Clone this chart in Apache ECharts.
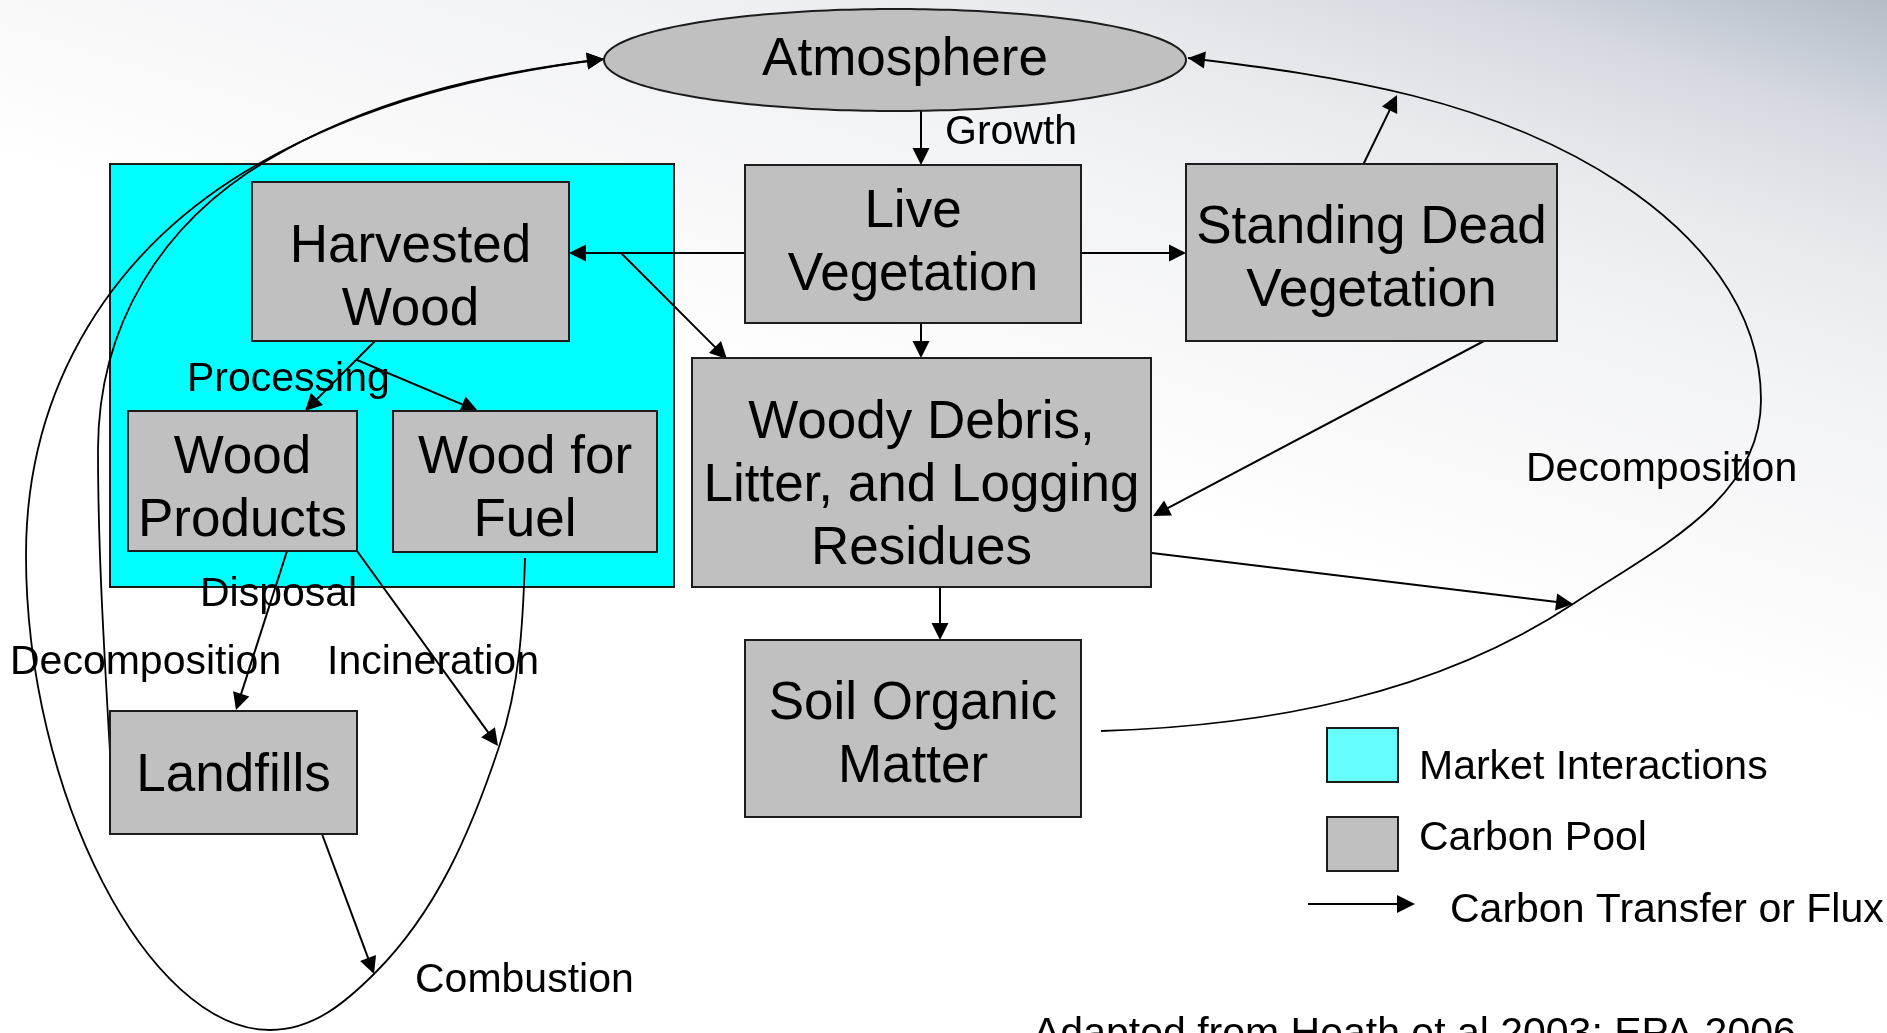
<!DOCTYPE html>
<html>
<head>
<meta charset="utf-8">
<script src="https://cdn.jsdelivr.net/npm/echarts@6/dist/echarts.min.js"></script>
<style>
html,body{margin:0;padding:0;background:#fff;overflow:hidden}
#c{width:1887px;height:1033px}
</style>
</head>
<body>
<div id="c"></div>
<script>
// Diagram space: x 0..1887, y 0..1033 (y grows downward)
const poolLabels = ['Harvested\nWood', 'Wood\nProducts', 'Wood for\nFuel', 'Live\nVegetation',
  'Standing Dead\nVegetation', 'Woody Debris,\nLitter, and Logging\nResidues', 'Soil Organic\nMatter', 'Landfills'];
const poolLeft   = [252, 128, 393, 745, 1186, 692, 745, 110];
const poolTop    = [182, 411, 411, 165, 164, 358, 640, 711];
const poolRight  = [569, 357, 657, 1081, 1557, 1151, 1081, 357];
const poolBottom = [341, 551, 552, 323, 341, 587, 817, 834];
const poolTextY  = [279, 490, 490, 244, 260, 486, 736, 776];

const marketBox = [110, 164, 674, 587];

const atmosphereLabel = 'Atmosphere';
const atmosphereShape = [895, 60, 291, 51];   // cx, cy, rx, ry
const atmosphereText = [905, 60];

// straight fluxes
const fluxFrom = [[921,111],[746,253],[621,253],[921,323],[1081,253],[1363,165],[1484,341],[1152,553],[940,587],[375,341],[357,360],[287,551],[357,551],[322,834]];
const fluxTo   = [[921,165],[569,253],[727,359],[921,358],[1186,253],[1397,95],[1153,516],[1573,604],[940,640],[305,411],[478,411],[236,710],[498,746],[374,974]];

// curved fluxes: cubic segments [x1,y1, cx1,cy1, cx2,cy2, x2,y2]
const curveSoilToAtmosphere = [
  [1101,731, 1267,726, 1435,695, 1573,604],
  [1573,604, 1656,549, 1761,500, 1761,400],
  [1761,400, 1761,307, 1697,234, 1620,183],
  [1620,183, 1493,99, 1339,76, 1188,58]
];
const curveFuelToAtmosphere = [
  [525,558, 523,623, 520,685, 499,747],
  [499,747, 471,831, 437,911, 375,973],
  [375,973, 345,1003, 313,1030, 270,1030],
  [270,1030, 148,1030, 26,792, 26,555],
  [26,555, 26,386, 113,246, 260,163],
  [260,163, 366,103, 483,74, 604,59]
];
const curveLandfillToAtmosphere = [
  [111,770, 105,663, 98,557, 98,450],
  [98,450, 98,326, 161,223, 268,160],
  [268,160, 370,99, 486,73, 604,59]
];
const curves = [curveSoilToAtmosphere, curveFuelToAtmosphere, curveLandfillToAtmosphere];

const fluxLabels = ['Growth', 'Processing', 'Disposal', 'Decomposition', 'Incineration', 'Combustion', 'Decomposition'];
const fluxLabelX = [945, 187, 200, 10, 327, 415, 1526];
const fluxLabelY = [133, 380, 595, 663, 663, 981, 470];

const legendLabels = ['Market Interactions', 'Carbon Pool', 'Carbon Transfer or Flux'];
const legendSymbolX = [1327, 1327, 1308];
const legendSymbolY = [728, 817, 904];
const legendTextX = [1419, 1419, 1450];
const legendTextY = [768, 839, 911];

const sourceNote = 'Adapted from Heath et al 2003; EPA 2006';
const sourceNotePos = [1033, 1035];

// ---------- styles ----------
const FONT = '"Liberation Sans", Arial, Helvetica, sans-serif';
const GRAY = '#c0c0c0';
const CYAN = '#00ffff';
const CYAN_LIGHT = '#66ffff';
const BORDER = '#1c1c1c';
const LW = 2;

function textEl(x, y, text, size, align, lineHeight) {
  return {
    type: 'text', x: x, y: y,
    style: {
      text: text, font: size + 'px ' + FONT, fill: '#000',
      align: align, textAlign: align,
      verticalAlign: 'middle', textVerticalAlign: 'middle',
      lineHeight: lineHeight || size
    }
  };
}
function headEl(tip, from, len, half) {
  len = len || 17; half = half || 8.5;
  const dx = tip[0] - from[0], dy = tip[1] - from[1];
  const d = Math.hypot(dx, dy) || 1, ux = dx / d, uy = dy / d;
  const base = [tip[0] - ux * len, tip[1] - uy * len];
  return {type: 'polygon', shape: {points: [tip, [base[0] - uy * half, base[1] + ux * half], [base[0] + uy * half, base[1] - ux * half]]}, style: {fill: '#000'}};
}
function arrowParts(a, b, len, half) {
  len = len || 17;
  const dx = b[0] - a[0], dy = b[1] - a[1];
  const d = Math.hypot(dx, dy) || 1, ux = dx / d, uy = dy / d;
  const lineEnd = [b[0] - ux * (len - 3), b[1] - uy * (len - 3)];
  return [
    {type: 'line', shape: {x1: a[0], y1: a[1], x2: lineEnd[0], y2: lineEnd[1]}, style: {stroke: '#000', lineWidth: LW}},
    headEl(b, a, len, half)
  ];
}

const chart = echarts.init(document.getElementById('c'), null, {renderer: 'canvas', width: 1887, height: 1033});

const option = {
  animation: false,
  backgroundColor: {
    type: 'linear', x: 1, y: 0, x2: 0.892, y2: 0.65,
    colorStops: [
      {offset: 0, color: '#b4bcc6'},
      {offset: 0.18, color: '#d6dae0'},
      {offset: 0.37, color: '#e8eaee'},
      {offset: 0.55, color: '#f2f3f5'},
      {offset: 0.8, color: '#f9f9fa'},
      {offset: 1, color: '#ffffff'}
    ]
  },
  grid: {left: 0, right: 0, top: 0, bottom: 0},
  xAxis: {type: 'value', min: 0, max: 1887, show: false},
  yAxis: {type: 'value', min: 0, max: 1033, inverse: true, show: false},
  series: [
    { // market interactions area
      type: 'custom', clip: false, z: 1,
      data: [marketBox],
      renderItem: function (params, api) {
        const p0 = api.coord([api.value(0), api.value(1)]);
        const p1 = api.coord([api.value(2), api.value(3)]);
        return {type: 'rect', shape: {x: p0[0], y: p0[1], width: p1[0] - p0[0], height: p1[1] - p0[1]},
          style: {fill: CYAN, stroke: BORDER, lineWidth: 2}};
      }
    },
    { // curved fluxes
      type: 'custom', clip: false, z: 2,
      data: curves.map(c => [c[0][0], c[0][1]]),
      renderItem: function (params, api) {
        const segs = curves[params.dataIndex];
        const children = [];
        let last = null;
        segs.forEach(s => {
          const p1 = api.coord([s[0], s[1]]), c1 = api.coord([s[2], s[3]]);
          const c2 = api.coord([s[4], s[5]]), p2 = api.coord([s[6], s[7]]);
          children.push({type: 'bezierCurve',
            shape: {x1: p1[0], y1: p1[1], cpx1: c1[0], cpy1: c1[1], cpx2: c2[0], cpy2: c2[1], x2: p2[0], y2: p2[1]},
            style: {stroke: '#000', lineWidth: 1.8, fill: null}});
          last = [c2, p2];
        });
        children.push(headEl(last[1], last[0]));
        return {type: 'group', children: children};
      }
    },
    { // straight fluxes
      type: 'custom', clip: false, z: 3,
      data: fluxFrom.map((p, i) => [p[0], p[1], fluxTo[i][0], fluxTo[i][1]]),
      renderItem: function (params, api) {
        const a = api.coord([api.value(0), api.value(1)]);
        const b = api.coord([api.value(2), api.value(3)]);
        return {type: 'group', children: arrowParts(a, b)};
      }
    },
    { // atmosphere
      type: 'custom', clip: false, z: 4,
      data: [atmosphereShape],
      renderItem: function (params, api) {
        const cx = api.value(0), cy = api.value(1), rx = api.value(2), ry = api.value(3);
        const pts = [];
        for (let k = 0; k < 240; k++) {
          const t = k / 240 * Math.PI * 2;
          pts.push(api.coord([cx + rx * Math.cos(t), cy + ry * Math.sin(t)]));
        }
        const tp = api.coord(atmosphereText);
        return {type: 'group', children: [
          {type: 'polygon', shape: {points: pts}, style: {fill: GRAY, stroke: BORDER, lineWidth: 2}},
          textEl(tp[0], tp[1], atmosphereLabel, 53, 'center')
        ]};
      }
    },
    { // carbon pools
      type: 'custom', clip: false, z: 5,
      data: poolLabels.map((n, i) => [poolLeft[i], poolTop[i], poolRight[i], poolBottom[i], poolTextY[i]]),
      renderItem: function (params, api) {
        const p0 = api.coord([api.value(0), api.value(1)]);
        const p1 = api.coord([api.value(2), api.value(3)]);
        const ty = api.coord([0, api.value(4)])[1];
        return {type: 'group', children: [
          {type: 'rect', shape: {x: p0[0], y: p0[1], width: p1[0] - p0[0], height: p1[1] - p0[1]},
            style: {fill: GRAY, stroke: BORDER, lineWidth: 2}},
          textEl((p0[0] + p1[0]) / 2, ty, poolLabels[params.dataIndex], 53, 'center', 63)
        ]};
      }
    },
    { // flux labels
      type: 'custom', clip: false, z: 6,
      data: fluxLabels.map((n, i) => [fluxLabelX[i], fluxLabelY[i]]),
      renderItem: function (params, api) {
        const p = api.coord([api.value(0), api.value(1)]);
        return textEl(p[0], p[1], fluxLabels[params.dataIndex], 41, 'left');
      }
    },
    { // legend
      type: 'custom', clip: false, z: 6,
      data: legendLabels.map((n, i) => [legendSymbolX[i], legendSymbolY[i], legendTextX[i], legendTextY[i]]),
      renderItem: function (params, api) {
        const i = params.dataIndex;
        const s = api.coord([api.value(0), api.value(1)]);
        const t = api.coord([api.value(2), api.value(3)]);
        const children = [];
        if (i < 2) {
          const e = api.coord([api.value(0) + 71, api.value(1) + 54]);
          children.push({type: 'rect', shape: {x: s[0], y: s[1], width: e[0] - s[0], height: e[1] - s[1]},
            style: {fill: i === 0 ? CYAN_LIGHT : GRAY, stroke: BORDER, lineWidth: 2}});
        } else {
          const e = api.coord([api.value(0) + 107, api.value(1)]);
          arrowParts(s, e, 18, 9).forEach(el => children.push(el));
        }
        children.push(textEl(t[0], t[1], legendLabels[i], 41, 'left'));
        return {type: 'group', children: children};
      }
    },
    { // source note
      type: 'custom', clip: false, z: 6,
      data: [sourceNotePos],
      renderItem: function (params, api) {
        const p = api.coord([api.value(0), api.value(1)]);
        return textEl(p[0], p[1], sourceNote, 41, 'left');
      }
    }
  ]
};
chart.setOption(option);
</script>
</body>
</html>
